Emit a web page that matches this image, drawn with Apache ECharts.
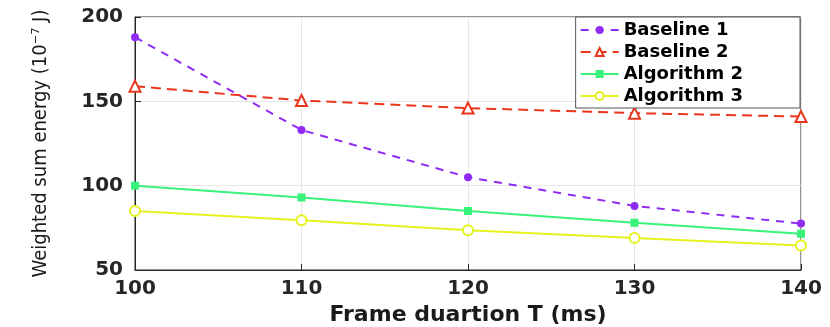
<!DOCTYPE html>
<html>
<head>
<meta charset="utf-8">
<script src="https://cdn.jsdelivr.net/npm/echarts@6/dist/echarts.min.js"></script>
<style>
  html, body { margin: 0; padding: 0; background: #fff; }
  #main { width: 830px; height: 327px; }
</style>
</head>
<body>
<div id="main"></div>
<script>
// 横轴：帧时长
var frameTimes = [100, 110, 120, 130, 140];
// 各方法的加权能耗
var baseline1 = [188, 133, 105, 88, 77.5];
var baseline2 = [159, 150.5, 146, 143, 141];
var algorithm2 = [100, 93, 85, 78, 71.5];
var algorithm3 = [85, 79.5, 73.5, 69, 64.5];
var yTicks = [50, 100, 150, 200];

var myChart = echarts.init(document.getElementById('main'));

function pairs(ys) {
    var out = [];
    for (var i = 0; i < frameTimes.length; i++) {
        out.push([frameTimes[i], ys[i]]);
    }
    return out;
}

var boldFont = 'DejaVu Sans';

var option = {
    backgroundColor: '#fff',
    animation: false,
    grid: {
        left: 135,
        right: 29,
        top: 17,
        bottom: 57,
        outerBoundsMode: 'none',
        show: true,
        borderColor: '#262626',
        borderWidth: 1
    },
    legend: {
        orient: 'vertical',
        right: 30,
        top: 17,
        itemWidth: 38,
        itemHeight: 10,
        itemGap: 4,
        padding: [4, 57, 3, 4],
        backgroundColor: '#fff',
        borderColor: '#555',
        borderWidth: 1,
        textStyle: {
            fontFamily: boldFont,
            fontWeight: 'bold',
            fontSize: 18,
            color: '#000'
        },
        data: ['Baseline 1', 'Baseline 2', 'Algorithm 2', 'Algorithm 3']
    },
    xAxis: {
        type: 'value',
        min: 100,
        max: 140,
        interval: 10,
        name: 'Frame duartion T (ms)',
        nameLocation: 'middle',
        nameGap: 34,
        nameTextStyle: {
            fontFamily: boldFont,
            fontWeight: 'bold',
            fontSize: 22,
            color: '#1a1a1a'
        },
        axisLine: { lineStyle: { color: '#262626' } },
        axisTick: { inside: true, length: 6, lineStyle: { color: '#262626' } },
        axisLabel: {
            fontFamily: boldFont,
            fontWeight: 'bold',
            fontSize: 20,
            color: '#262626',
            margin: 9
        },
        splitLine: { show: true, lineStyle: { color: '#e6e6e6' } }
    },
    yAxis: {
        type: 'value',
        min: yTicks[0],
        max: yTicks[yTicks.length - 1],
        interval: 50,
        name: 'Weighted sum energy (10⁻⁷ J)',
        nameLocation: 'middle',
        nameGap: 84,
        nameTextStyle: {
            fontFamily: 'Liberation Sans Narrow, DejaVu Sans Condensed, sans-serif',
            fontSize: 20,
            color: '#1a1a1a'
        },
        axisLine: { show: true, lineStyle: { color: '#262626' } },
        axisTick: { show: true, inside: true, length: 6, lineStyle: { color: '#262626' } },
        axisLabel: {
            fontFamily: boldFont,
            fontWeight: 'bold',
            fontSize: 20,
            color: '#262626',
            margin: 12
        },
        splitLine: { show: true, lineStyle: { color: '#e6e6e6' } }
    },
    series: [
        {
            name: 'Baseline 1',
            type: 'line',
            data: pairs(baseline1),
            symbol: 'circle',
            symbolSize: 8,
            color: '#8f2bf2',
            lineStyle: { width: 2, type: [8, 7] }
        },
        {
            name: 'Baseline 2',
            type: 'line',
            data: pairs(baseline2),
            symbol: 'triangle',
            symbolSize: 11,
            color: '#e8361e',
            itemStyle: { color: '#fff', borderColor: '#e8361e', borderWidth: 2 },
            lineStyle: { width: 2, color: '#e8361e', type: [10, 6] }
        },
        {
            name: 'Algorithm 2',
            type: 'line',
            data: pairs(algorithm2),
            symbol: 'rect',
            symbolSize: 8,
            color: '#38f27a',
            lineStyle: { width: 2 }
        },
        {
            name: 'Algorithm 3',
            type: 'line',
            data: pairs(algorithm3),
            symbol: 'circle',
            symbolSize: 10,
            color: '#e6f21e',
            itemStyle: { color: '#fff', borderColor: '#e6f21e', borderWidth: 2 },
            lineStyle: { width: 2, color: '#e6f21e' }
        }
    ]
};

myChart.setOption(option);
</script>
</body>
</html>
